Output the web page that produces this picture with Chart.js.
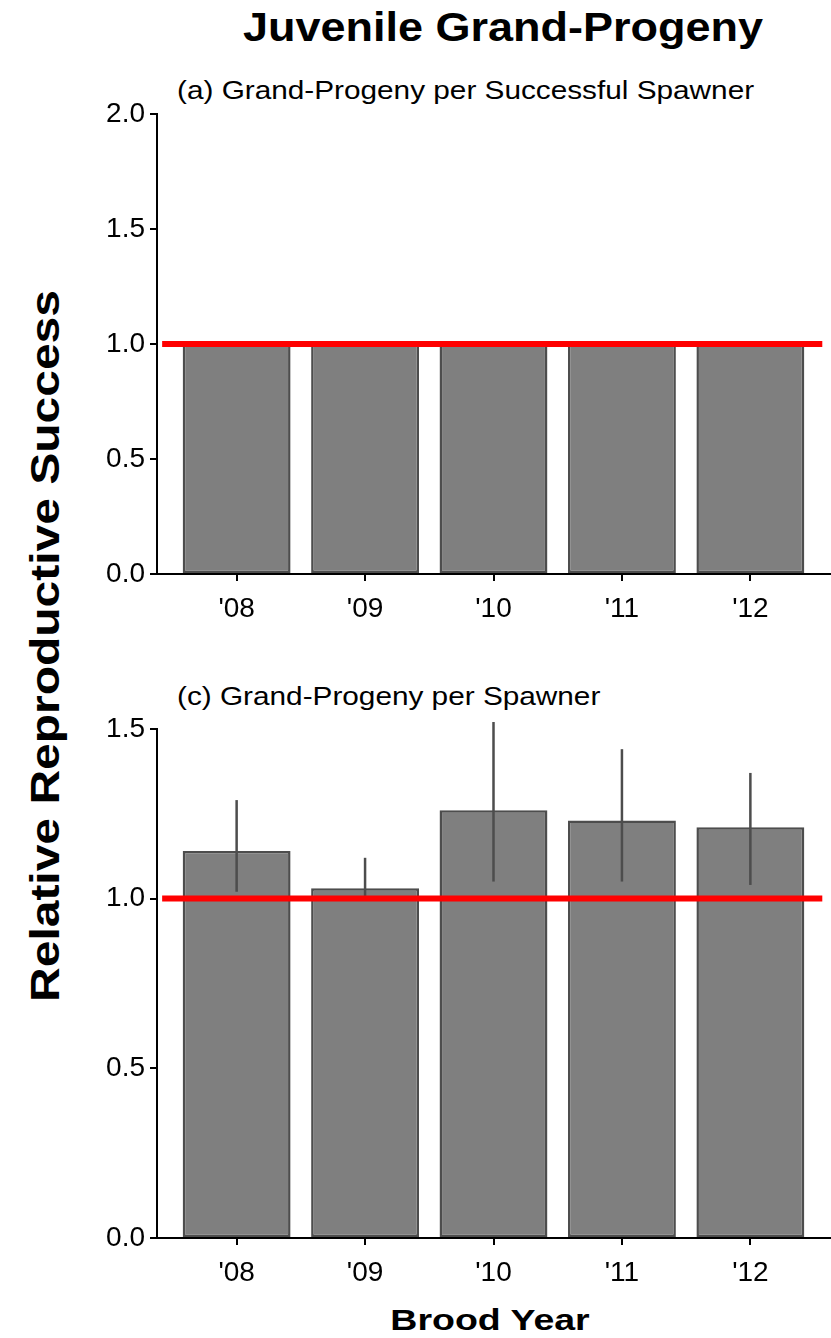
<!DOCTYPE html>
<html>
<head>
<meta charset="utf-8">
<script src="https://cdn.jsdelivr.net/npm/chart.js@4.4.0/dist/chart.umd.min.js"></script>
<style>
  body { margin: 0; width: 831px; height: 1338px; position: relative; background: #fff;
         font-family: "Liberation Sans", Arial, sans-serif; overflow: hidden; }
  canvas { position: absolute; left: 0; }
  .txt { position: absolute; white-space: nowrap; color: #000; line-height: 1; }
  #title { left: 503px; top: 7px; transform: translateX(-50%) scaleX(1.125); font-size: 40px; font-weight: bold; }
  #subA { left: 177px; top: 78px; transform-origin: left center; transform: scaleX(1.19); font-size: 25px; }
  #subC { left: 177px; top: 684px; transform-origin: left center; transform: scaleX(1.19); font-size: 25px; }
  #xTitle { left: 490px; top: 1305px; transform: translateX(-50%) scaleX(1.25); font-size: 30px; font-weight: bold; }
  #yTitle { left: 45px; top: 646px; transform: translate(-50%, -50%) rotate(-90deg) scaleX(1.17); font-size: 41px; font-weight: bold; }
</style>
</head>
<body>
<div class="txt" id="title">Juvenile Grand-Progeny</div>
<div class="txt" id="subA">(a) Grand-Progeny per Successful Spawner</div>
<div class="txt" id="subC">(c) Grand-Progeny per Spawner</div>
<div class="txt" id="xTitle">Brood Year</div>
<div class="txt" id="yTitle">Relative Reproductive Success</div>
<canvas id="chartA" width="831" height="530" style="top:92px"></canvas>
<canvas id="chartC" width="831" height="580" style="top:707px"></canvas>
<script>
// ---- data ----
const years = ["'08", "'09", "'10", "'11", "'12"];
const rsA = [1.0, 1.0, 1.0, 1.0, 1.0];
const rsC = [1.14, 1.03, 1.26, 1.23, 1.21];
const loC = [1.02, 1.00, 1.05, 1.05, 1.04];
const hiC = [1.29, 1.12, 1.52, 1.44, 1.37];
const yTicksA = [0, 0.5, 1.0, 1.5, 2.0];
const yTicksC = [0, 0.5, 1.0, 1.5];
const refValue = 1.0;

const BAR_FILL = '#7f7f7f';
const BAR_EDGE = '#4d4d4d';
const FONT = { family: '"Liberation Sans", Arial, sans-serif', size: 28 };

// error bars drawn right after the bars, so the red line stays on top
const errorBars = {
    id: 'errorBars',
    afterDatasetDraw(chart, args, opts) {
        if (args.index !== 0 || !opts.lo) return;
        const { ctx } = chart;
        const yScale = chart.scales.y;
        ctx.save();
        ctx.strokeStyle = BAR_EDGE;
        ctx.lineWidth = 2.5;
        args.meta.data.forEach((bar, i) => {
            ctx.beginPath();
            ctx.moveTo(bar.x, yScale.getPixelForValue(opts.lo[i]));
            ctx.lineTo(bar.x, yScale.getPixelForValue(opts.hi[i]));
            ctx.stroke();
        });
        ctx.restore();
    }
};

const makeChart = (id, values, yTicks, yMax, xHeight, lo, hi) => {
    return new Chart(document.getElementById(id), {
        data: {
            datasets: [
                {
                    type: 'bar',
                    data: values.map((v, i) => ({ x: i + 1, y: v })),
                    backgroundColor: BAR_FILL,
                    borderColor: BAR_EDGE,
                    borderWidth: 2.5,
                    borderSkipped: false,
                    barPercentage: 0.84,
                    categoryPercentage: 1,
                    order: 2
                },
                {
                    type: 'line',
                    data: [{ x: 0.42, y: refValue }, { x: 5.56, y: refValue }],
                    borderColor: '#ff0000',
                    borderWidth: 6,
                    pointRadius: 0,
                    order: 1
                }
            ]
        },
        options: {
            responsive: false,
            animation: false,
            layout: { padding: { top: 0, right: 1, left: 0, bottom: 0 } },
            plugins: {
                legend: { display: false },
                tooltip: { enabled: false },
                errorBars: { lo, hi }
            },
            scales: {
                x: {
                    type: 'linear',
                    offset: false,
                    min: 0.38,
                    max: 5.62,
                    afterBuildTicks: s => { s.ticks = years.map((_, i) => ({ value: i + 1 })); },
                    afterFit: s => { s.height = xHeight; },
                    ticks: { callback: v => years[v - 1], color: '#000', font: FONT, padding: 11, maxRotation: 0 },
                    grid: { offset: false, drawOnChartArea: false, color: '#000', lineWidth: 2, tickLength: 7 },
                    border: { color: '#000', width: 2 }
                },
                y: {
                    min: 0,
                    max: yMax,
                    afterBuildTicks: s => { s.ticks = yTicks.map(v => ({ value: v })); },
                    afterFit: s => { s.width = 157; },
                    ticks: { callback: v => v.toFixed(1), color: '#000', font: FONT, padding: 5 },
                    grid: { drawOnChartArea: false, color: '#000', lineWidth: 2, tickLength: 7 },
                    border: { color: '#000', width: 2 }
                }
            }
        },
        plugins: [errorBars]
    });
};

makeChart('chartA', rsA, yTicksA, 2.0, 48, null, null);
makeChart('chartC', rsC, yTicksC, 1.5, 49, loC, hiC);
</script>
</body>
</html>
